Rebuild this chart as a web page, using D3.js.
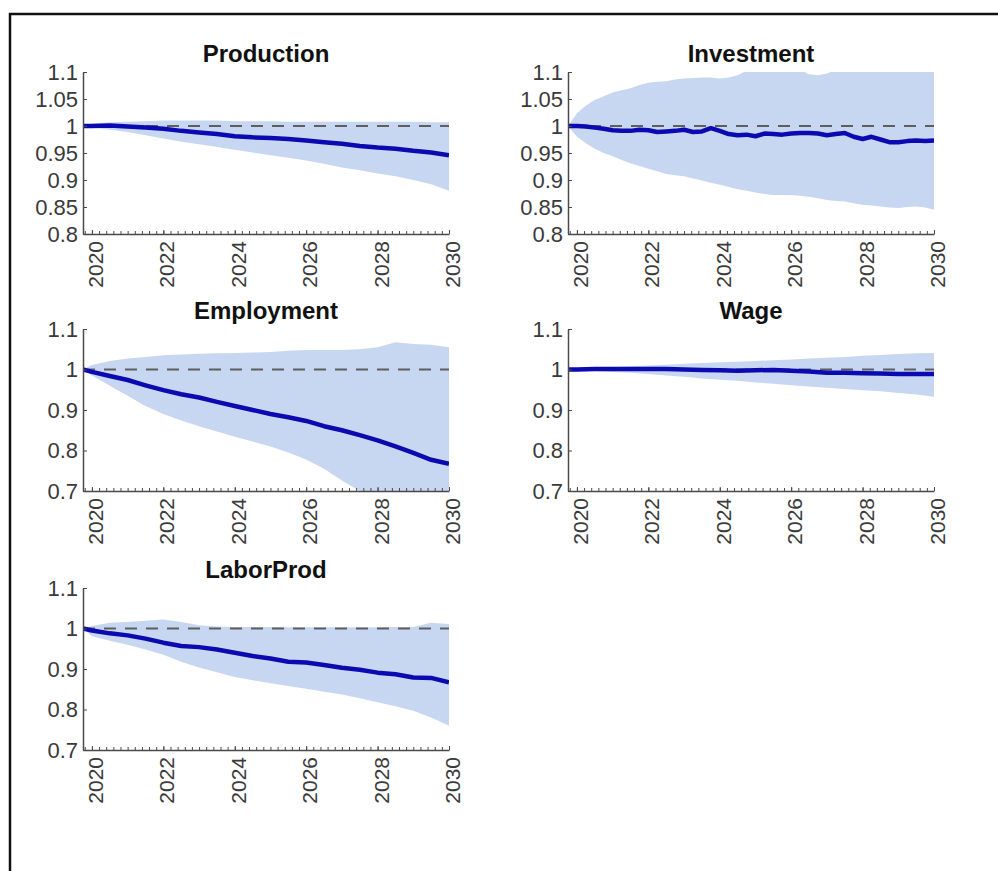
<!DOCTYPE html>
<html>
<head>
<meta charset="utf-8">
<script src="https://cdn.jsdelivr.net/npm/d3@7"></script>
<style>
  body { margin: 0; background: #fff; }
  svg { display: block; font-family: "Liberation Sans", Arial, Helvetica, sans-serif; }
</style>
</head>
<body>
<svg id="chart" width="998" height="871"></svg>
<script>
// ---- data -------------------------------------------------------------
// Semi-annual sample points (decimal years)
const halfYears = [2019.75, 2020, 2020.5, 2021, 2021.5, 2022, 2022.5, 2023, 2023.5, 2024, 2024.5,
  2025, 2025.5, 2026, 2026.5, 2027, 2027.5, 2028, 2028.5, 2029, 2029.5, 2030];
// Quarterly sample points (decimal years)
const quarterYears = [2019.75, 2020, 2020.25, 2020.5, 2020.75, 2021, 2021.25, 2021.5, 2021.75,
  2022, 2022.25, 2022.5, 2022.75, 2023, 2023.25, 2023.5, 2023.75, 2024, 2024.25, 2024.5, 2024.75,
  2025, 2025.25, 2025.5, 2025.75, 2026, 2026.25, 2026.5, 2026.75, 2027, 2027.25, 2027.5, 2027.75,
  2028, 2028.25, 2028.5, 2028.75, 2029, 2029.25, 2029.5, 2029.75, 2030];

const productionMean  = [1.000, 1.000, 1.001, 0.999, 0.997, 0.995, 0.991, 0.988, 0.985, 0.981, 0.979,
  0.978, 0.976, 0.973, 0.970, 0.967, 0.963, 0.960, 0.958, 0.954, 0.951, 0.946];
const productionUpper = [1.000, 1.004, 1.007, 1.008, 1.009, 1.010, 1.010, 1.010, 1.010, 1.009, 1.009,
  1.009, 1.008, 1.008, 1.008, 1.008, 1.008, 1.008, 1.008, 1.008, 1.007, 1.007];
const productionLower = [1.000, 0.997, 0.993, 0.989, 0.983, 0.977, 0.971, 0.966, 0.961, 0.956, 0.951,
  0.946, 0.941, 0.936, 0.930, 0.923, 0.918, 0.912, 0.907, 0.900, 0.892, 0.880];

const investmentMean  = [1.000, 1.000, 0.999, 0.997, 0.995, 0.992, 0.991, 0.991, 0.993, 0.992, 0.989,
  0.990, 0.991, 0.993, 0.989, 0.990, 0.996, 0.991, 0.985, 0.983, 0.984, 0.981, 0.986, 0.985, 0.984,
  0.986, 0.987, 0.987, 0.986, 0.983, 0.985, 0.987, 0.980, 0.976, 0.980, 0.975, 0.970, 0.970, 0.972,
  0.973, 0.972, 0.973];
const investmentUpper = [1.000, 1.023, 1.038, 1.048, 1.055, 1.062, 1.066, 1.070, 1.076, 1.080, 1.082,
  1.083, 1.086, 1.088, 1.089, 1.090, 1.090, 1.088, 1.090, 1.094, 1.102, 1.108, 1.112, 1.114, 1.115,
  1.112, 1.104, 1.096, 1.094, 1.097, 1.104, 1.110, 1.115, 1.118, 1.120, 1.120, 1.121, 1.122, 1.122,
  1.123, 1.123, 1.124];
const investmentLower = [1.000, 0.980, 0.968, 0.958, 0.950, 0.944, 0.937, 0.931, 0.926, 0.921, 0.916,
  0.911, 0.909, 0.907, 0.903, 0.899, 0.895, 0.891, 0.887, 0.883, 0.880, 0.877, 0.874, 0.872, 0.872,
  0.872, 0.871, 0.869, 0.866, 0.863, 0.861, 0.860, 0.857, 0.854, 0.853, 0.851, 0.849, 0.848, 0.850,
  0.851, 0.849, 0.845];

const employmentMean  = [1.000, 0.994, 0.984, 0.974, 0.961, 0.949, 0.939, 0.931, 0.920, 0.910, 0.900,
  0.890, 0.882, 0.873, 0.860, 0.850, 0.838, 0.825, 0.810, 0.794, 0.777, 0.767];
const employmentUpper = [1.000, 1.011, 1.021, 1.027, 1.031, 1.035, 1.037, 1.039, 1.040, 1.041, 1.042,
  1.043, 1.046, 1.048, 1.048, 1.048, 1.050, 1.055, 1.067, 1.063, 1.061, 1.055];
const employmentLower = [1.000, 0.985, 0.960, 0.935, 0.910, 0.890, 0.874, 0.860, 0.847, 0.834, 0.822,
  0.810, 0.795, 0.778, 0.755, 0.726, 0.700, 0.680, 0.660, 0.640, 0.620, 0.600];

const wageMean  = [1.000, 1.000, 1.001, 1.001, 1.001, 1.001, 1.001, 1.000, 0.999, 0.998, 0.997,
  0.998, 0.999, 0.997, 0.995, 0.992, 0.992, 0.991, 0.990, 0.989, 0.989, 0.989];
const wageUpper = [1.000, 1.002, 1.004, 1.006, 1.008, 1.010, 1.012, 1.014, 1.016, 1.018, 1.019,
  1.021, 1.023, 1.025, 1.027, 1.029, 1.031, 1.034, 1.036, 1.038, 1.040, 1.041];
const wageLower = [1.000, 0.998, 0.996, 0.994, 0.992, 0.989, 0.985, 0.982, 0.978, 0.975, 0.972,
  0.968, 0.965, 0.961, 0.958, 0.955, 0.952, 0.949, 0.946, 0.942, 0.938, 0.933];

const laborProdMean  = [1.000, 0.995, 0.988, 0.983, 0.975, 0.965, 0.957, 0.954, 0.948, 0.940, 0.932,
  0.926, 0.918, 0.916, 0.910, 0.903, 0.898, 0.891, 0.887, 0.879, 0.878, 0.867];
const laborProdUpper = [1.000, 1.006, 1.014, 1.016, 1.019, 1.022, 1.016, 1.008, 1.005, 1.004, 1.004,
  1.004, 1.003, 1.003, 1.003, 1.003, 1.003, 1.003, 1.004, 1.004, 1.014, 1.011];
const laborProdLower = [1.000, 0.981, 0.970, 0.960, 0.948, 0.935, 0.918, 0.904, 0.892, 0.880, 0.872,
  0.865, 0.858, 0.851, 0.844, 0.837, 0.828, 0.818, 0.808, 0.797, 0.780, 0.760];

// Axis ticks
const xTickYears   = [2020, 2022, 2024, 2026, 2028, 2030];
const yTicksFine   = [0.8, 0.85, 0.9, 0.95, 1, 1.05, 1.1];
const yTicksCoarse = [0.7, 0.8, 0.9, 1, 1.1];
const xDomain = [2019.75, 2030];
const baseline = 1;

// ---- layout ------------------------------------------------------------
const colLeft = [83, 568];
const colWidth = 366;
const rowTop = [72, 329, 588];
const rowHeight = 162;

const panels = [
  { title: "Production", col: 0, row: 0, years: halfYears, mean: productionMean, lo: productionLower, hi: productionUpper, yDomain: [0.8, 1.1], yTicks: yTicksFine },
  { title: "Investment", col: 1, row: 0, years: quarterYears, mean: investmentMean, lo: investmentLower, hi: investmentUpper, yDomain: [0.8, 1.1], yTicks: yTicksFine },
  { title: "Employment", col: 0, row: 1, years: halfYears, mean: employmentMean, lo: employmentLower, hi: employmentUpper, yDomain: [0.7, 1.1], yTicks: yTicksCoarse },
  { title: "Wage", col: 1, row: 1, years: halfYears, mean: wageMean, lo: wageLower, hi: wageUpper, yDomain: [0.7, 1.1], yTicks: yTicksCoarse },
  { title: "LaborProd", col: 0, row: 2, years: halfYears, mean: laborProdMean, lo: laborProdLower, hi: laborProdUpper, yDomain: [0.7, 1.1], yTicks: yTicksCoarse }
];

const svg = d3.select("#chart");
svg.append("rect").attr("width", 998).attr("height", 871).attr("fill", "#fff");

// figure frame (top and left edges)
svg.append("path")
  .attr("d", "M10,871V14H998")
  .attr("fill", "none")
  .attr("stroke", "#111")
  .attr("stroke-width", 2.5);

const fmt = d => String(+d.toFixed(2));

panels.forEach((p, i) => {
  const left = colLeft[p.col], top = rowTop[p.row];
  const w = colWidth, h = rowHeight;
  const g = svg.append("g").attr("transform", `translate(${left},${top})`);

  const x = d3.scaleLinear().domain(xDomain).range([0, w]);
  const y = d3.scaleLinear().domain(p.yDomain).range([h, 0]);

  const clipId = "clip" + i;
  g.append("clipPath").attr("id", clipId)
    .append("rect").attr("x", 0).attr("y", 0).attr("width", w).attr("height", h);

  const rows = p.years.map((yr, k) => ({ yr, m: p.mean[k], lo: p.lo[k], hi: p.hi[k] }));
  const plot = g.append("g").attr("clip-path", `url(#${clipId})`);

  // confidence band
  plot.append("path")
    .datum(rows)
    .attr("fill", "#c8d7f1")
    .attr("d", d3.area().x(d => x(d.yr)).y0(d => y(d.lo)).y1(d => y(d.hi)));

  // reference level
  plot.append("line")
    .attr("x1", x(xDomain[0])).attr("x2", x(xDomain[1]))
    .attr("y1", y(baseline)).attr("y2", y(baseline))
    .attr("stroke", "#5e5e5e")
    .attr("stroke-width", 1.8)
    .attr("stroke-dasharray", "12,9");

  // central path
  plot.append("path")
    .datum(rows)
    .attr("fill", "none")
    .attr("stroke", "#0a0ab0")
    .attr("stroke-width", 4.5)
    .attr("stroke-linejoin", "round")
    .attr("d", d3.line().x(d => x(d.yr)).y(d => y(d.m)));

  // minor x ticks
  const minorTicks = x.ticks(50);
  g.append("g")
    .attr("transform", `translate(0,${h})`)
    .call(d3.axisBottom(x).tickValues(minorTicks).tickFormat("").tickSizeInner(-3).tickSizeOuter(0))
    .call(a => a.select(".domain").remove())
    .call(a => a.selectAll("line").attr("stroke", "#4a4a4a").attr("stroke-width", 1));

  // major x axis
  const xa = g.append("g")
    .attr("transform", `translate(0,${h})`)
    .call(d3.axisBottom(x).tickValues(xTickYears).tickFormat(d3.format("d")).tickSizeInner(-4).tickSizeOuter(0));
  xa.select(".domain").attr("stroke", "#4a4a4a").attr("stroke-width", 1.5);
  xa.selectAll("line").attr("stroke", "#4a4a4a");
  xa.selectAll("text")
    .attr("transform", "rotate(-90)")
    .attr("text-anchor", "end")
    .attr("x", -7)
    .attr("y", 3)
    .attr("dy", "0.36em")
    .attr("font-size", 21)
    .attr("font-family", null)
    .attr("fill", "#3a3a3a");

  // y axis
  const ya = g.append("g")
    .call(d3.axisLeft(y).tickValues(p.yTicks).tickFormat(fmt).tickSizeInner(-4).tickSizeOuter(0).tickPadding(5));
  ya.select(".domain").attr("stroke", "#4a4a4a").attr("stroke-width", 1.5);
  ya.selectAll("line").attr("stroke", "#4a4a4a");
  ya.selectAll("text")
    .attr("font-size", 22)
    .attr("font-family", null)
    .attr("fill", "#3a3a3a");

  // title
  g.append("text")
    .attr("x", w / 2)
    .attr("y", -10)
    .attr("text-anchor", "middle")
    .attr("font-size", 24)
    .attr("font-weight", "bold")
    .attr("fill", "#111")
    .text(p.title);
});
</script>
</body>
</html>
